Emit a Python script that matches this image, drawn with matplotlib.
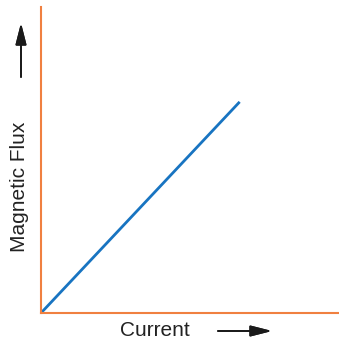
import matplotlib.pyplot as plt

plt.rcParams['font.family'] = ['Liberation Sans', 'DejaVu Sans']

# straight line through origin
current = [0, 10.0]
flux = [0, 10.35]

orange = '#F08040'
blue = '#1874C1'

fig = plt.figure(figsize=(3.39, 3.44), dpi=100)
ax = fig.add_axes([41/339, 31/344, 298/339, 306/344])

ax.plot(current, flux, color=blue, lw=2.0, solid_capstyle='butt')
ax.set_xlim(0, 15)
ax.set_ylim(0, 15)
ax.set_xticks([])
ax.set_yticks([])
for s in ['top', 'right']:
    ax.spines[s].set_visible(False)
for s in ['left', 'bottom']:
    ax.spines[s].set_color(orange)
    ax.spines[s].set_linewidth(1.5)

# axis labels with arrows (figure pixel coords)
fig.text(155/339, 1 - 331/344, 'Current', ha='center', va='center', fontsize=15, color='#222222')
fig.text(20/339, 1 - 187/344, 'Magnetic Flux', ha='center', va='center', rotation=90,
         fontsize=15, color='#222222')

arrow = dict(arrowstyle='-|>,head_length=1.3,head_width=0.33', color='#1a1a1a', lw=1.3,
             shrinkA=0, shrinkB=0)
fig.add_artist(plt.annotate('', xy=(272/339, 1 - 331/344), xytext=(218/339, 1 - 331/344),
                            xycoords='figure fraction', arrowprops=arrow))
fig.add_artist(plt.annotate('', xy=(21/339, 1 - 23/344), xytext=(21/339, 1 - 77/344),
                            xycoords='figure fraction', arrowprops=arrow))

fig.savefig('out.png', dpi=100)
